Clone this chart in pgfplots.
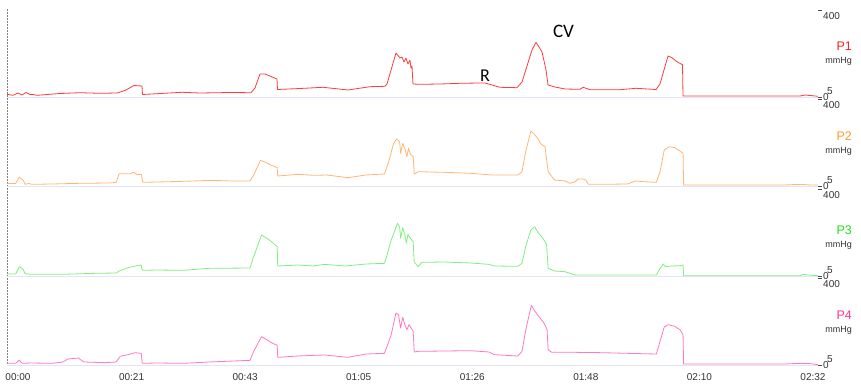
\documentclass[border=0pt]{standalone}
\usepackage{pgfplots}
\pgfplotsset{compat=1.18}
\usepackage{fontspec}
\setmainfont{Liberation Sans}
\newfontfamily\carlito{Carlito}
\definecolor{cP1}{HTML}{FF3B3B}
\definecolor{cP2}{HTML}{FFB574}
\definecolor{cP3}{HTML}{80EE80}
\definecolor{cP4}{HTML}{FF78C4}
\definecolor{lP1}{HTML}{FF2020}
\definecolor{lP2}{HTML}{FF9A30}
\definecolor{lP3}{HTML}{22DD22}
\definecolor{lP4}{HTML}{FF3399}
\definecolor{base}{HTML}{E4E4F8}
\pgfplotsset{
 panel/.style={
  scale only axis, width=811pt, height=87pt,
  xmin=-2.1, xmax=152.96, ymin=-5, ymax=400,
  axis line style={draw=none},
  xtick=\empty,
  ytick={-5,400},
  yticklabels={{\raisebox{-3.2pt}[0pt][0pt]{0}\hspace{-1.6pt}\raisebox{2.6pt}[0pt][0pt]{5}},{\raisebox{-9.8pt}[0pt][0pt]{400}}},
  ytick pos=right,
  yticklabel pos=right,
  tick align=outside,
  major tick length=4pt,
  ytick style={black!70, line width=0.6pt},
  yticklabel style={font=\fontsize{10}{10}\selectfont, text=black!80, anchor=west, inner sep=1pt},
  every axis plot/.append style={line width=0.8pt, line join=round},
  anchor=south west,
 },
}
\begin{document}
\begin{tikzpicture}
\useasboundingbox (0pt,0pt) rectangle (861pt,384pt);
\draw[gray, densely dotted, line width=0.5pt] (7pt,19pt) -- (7pt,376pt);

% P1
\begin{axis}[panel, at={(7pt,287pt)}]
\draw[base, line width=1pt] (axis cs:-2.1,-5) -- (axis cs:152.96,-5);
\addplot[cP1] coordinates {
(-2.10,7.6)(-0.96,2.9)(0,13.6)(0.76,4.3)(1.53,15.9)(2.29,6.6)(2.87,6.6)(3.63,2.9)
(8.03,11.3)(11.85,15.0)(15.68,12.2)(18.93,13.6)(20.46,25.3)(22.18,48.5)(23.71,46.2)(23.80,6.6)
(27.24,11.3)(31.36,16.9)(34.80,13.6)(40.53,15.9)(44.55,15.0)(45.31,36.9)(46.27,102.1)(47.22,102.1)
(49.52,78.8)(49.62,29.9)(53.92,34.6)(58.32,40.2)(63.10,27.6)(67.30,43.0)(70.17,44.8)(70.55,55.5)
(72.27,199.8)(73.04,176.5)(73.42,181.2)(73.80,157.9)(74.18,176.5)(74.57,148.6)(74.95,167.2)(75.14,130.0)
(75.33,139.3)(75.52,55.5)(76.86,54.1)(80.69,55.5)(84.51,58.8)(88.33,60.2)(89.29,60.2)(92.16,40.2)
(95.41,38.3)(96.37,64.8)(98.28,213.8)(99.04,249.6)(99.62,227.8)(100.19,204.5)(100.96,120.7)(101.34,50.9)
(102.67,41.6)(104.59,32.2)(107.45,30.8)(108.03,40.2)(109.37,29.0)(115.11,29.0)(118.16,35.5)(121.99,29.9)
(122.75,55.5)(124.28,185.9)(125.04,177.9)(125.81,162.6)(126.77,148.6)(127.05,146.3)(127.15,-0.3)(130.40,-0.3)
(149.52,-0.3)(150.47,4.3)(151.81,1.1)(152.96,-1.7)
};
\node[font=\carlito\fontsize{18}{18}\selectfont] at (axis cs:89.3,92.8) {R};
\node[font=\carlito\fontsize{19}{19}\selectfont] at (axis cs:104.3,299) {CV};
\end{axis}

% P2
\begin{axis}[panel, at={(7pt,198pt)}]
\draw[base, line width=1pt] (axis cs:-2.1,-5) -- (axis cs:152.96,-5);
\addplot[cP2] coordinates {
(-2.04,6.9)(-0.44,6.9)(0.26,35.4)(0.96,22.9)(1.36,2.8)(2.06,6.9)(2.56,2.8)(6.56,4.3)
(11.56,7.4)(17.56,9.0)(18.76,12.1)(19.36,52.4)(20.56,52.4)(21.56,52.4)(22.06,58.6)(22.76,47.8)
(23.56,49.3)(23.86,12.1)(26.56,13.6)(31.56,16.7)(37.06,21.4)(40.56,18.3)(44.36,18.3)(45.06,46.2)
(46.36,114.5)(47.06,108.3)(48.36,92.8)(49.56,80.4)(49.66,41.6)(53.56,49.3)(56.56,44.7)(59.06,46.2)
(63.06,33.8)(66.56,46.2)(70.06,50.9)(70.56,85.0)(71.06,123.8)(71.76,189.0)(72.36,213.8)(72.96,201.4)
(73.16,147.1)(73.56,193.7)(74.06,162.6)(74.36,131.6)(74.66,170.4)(75.06,142.4)(75.56,131.6)(75.76,50.9)
(76.56,61.7)(81.56,58.6)(86.56,54.0)(90.56,46.2)(95.56,46.2)(96.36,61.7)(97.06,154.9)(98.06,251.1)
(98.56,240.2)(99.36,216.9)(100.06,189.0)(100.76,178.1)(101.36,61.7)(102.56,22.9)(104.56,18.3)(105.56,7.4)
(106.56,15.2)(107.06,27.6)(108.06,27.6)(108.56,22.9)(109.06,2.8)(111.56,2.8)(116.56,4.3)(118.06,18.3)
(119.56,15.2)(122.06,12.1)(122.76,61.7)(123.56,162.6)(124.56,178.1)(125.56,173.5)(126.56,158.0)(127.16,147.1)
(127.26,-0.3)(136.56,-0.3)(146.56,-0.3)(149.56,2.8)(151.56,-0.3)(152.96,-0.3)
};
\end{axis}

% P3
\begin{axis}[panel, at={(7pt,108pt)}]
\draw[base, line width=1pt] (axis cs:-2.1,-5) -- (axis cs:152.96,-5);
\addplot[cP3] coordinates {
(-2.04,4.3)(-0.44,4.3)(0.26,38.5)(0.96,27.6)(1.36,5.9)(2.56,2.8)(8.56,2.8)(14.56,7.4)
(18.76,9.0)(19.36,18.3)(21.06,33.8)(22.76,43.1)(23.56,46.2)(23.76,21.4)(26.56,22.9)(31.56,21.4)
(36.56,30.7)(44.36,32.2)(45.06,85.0)(46.56,185.9)(48.06,162.6)(49.56,131.6)(49.66,41.6)(53.56,46.2)
(56.56,41.6)(58.56,49.3)(62.56,41.6)(66.56,50.9)(70.06,54.0)(70.56,92.8)(71.36,162.6)(72.56,240.2)
(72.96,224.7)(73.16,170.4)(73.56,220.0)(73.96,185.9)(74.26,147.1)(74.56,189.0)(75.16,165.7)(75.56,154.9)
(75.76,58.6)(76.56,38.5)(77.16,58.6)(81.56,60.2)(86.56,55.5)(90.06,49.3)(91.06,41.6)(95.56,40.0)
(96.36,54.0)(97.06,131.6)(98.06,209.2)(98.76,224.7)(99.56,193.7)(100.36,170.4)(101.06,142.4)(101.36,30.7)
(102.56,18.3)(104.56,15.2)(105.56,7.4)(106.56,-0.3)(111.56,-0.3)(116.56,-0.3)(122.06,-0.3)(122.76,30.7)
(123.36,50.9)(123.76,38.5)(125.06,41.6)(126.56,43.1)(127.16,46.2)(127.26,-3.4)(136.56,-3.4)(149.56,-3.4)
(150.06,2.8)(151.06,-0.3)(152.96,-3.4)
};
\end{axis}

% P4
\begin{axis}[panel, at={(7pt,19pt)},
  xtick={0,21.714,43.429,65.143,86.857,108.571,130.286,152},
  xticklabels={00:00,00:21,00:43,01:05,01:26,01:48,02:10,02:32},
  xtick style={draw=none},
  xticklabel style={font=\fontsize{10}{10}\selectfont, text=black!80, yshift=-1pt}]
\draw[base, line width=1pt] (axis cs:-2.1,-5) -- (axis cs:152.96,-5);
\addplot[cP4] coordinates {
(-2.04,2.8)(-0.44,2.8)(0.26,18.3)(0.76,2.8)(2.56,4.3)(6.56,2.8)(8.56,9.0)(9.56,22.9)
(11.56,27.6)(12.56,9.0)(16.56,5.9)(18.76,9.0)(19.56,35.4)(21.56,46.2)(22.36,52.4)(23.56,49.3)
(23.76,2.8)(26.56,4.3)(31.56,2.8)(36.56,9.0)(44.36,16.7)(45.06,58.6)(46.56,126.9)(47.56,113.0)
(48.56,97.4)(49.56,86.6)(49.66,30.7)(53.56,36.9)(56.56,40.0)(58.56,41.6)(63.06,30.7)(66.56,46.2)
(70.06,49.3)(70.56,81.9)(71.36,136.2)(72.26,237.1)(72.76,229.4)(73.16,167.3)(73.56,216.9)(73.96,182.8)
(74.36,159.5)(74.76,182.8)(75.26,164.2)(75.56,151.8)(75.76,55.5)(76.56,58.6)(81.56,60.2)(86.56,61.7)
(90.06,55.5)(91.06,43.1)(95.56,36.9)(96.36,58.6)(97.16,167.3)(98.16,272.8)(98.76,248.0)(99.56,221.6)
(100.56,190.6)(101.16,159.5)(101.36,66.4)(102.06,54.0)(106.56,54.0)(111.56,52.4)(116.56,49.3)(122.06,46.2)
(122.76,105.2)(123.56,171.9)(124.36,182.8)(125.56,175.0)(126.56,159.5)(127.16,136.2)(127.26,-0.3)(136.56,-0.3)
(146.56,-0.3)(149.56,2.8)(151.56,1.2)(152.96,-3.4)
};
\end{axis}

% channel labels
\node[anchor=east, text=lP1, font=\fontsize{12.5}{12.5}\selectfont, inner sep=0pt] at (852pt,338pt) {P1};
\node[anchor=east, text=black!80, font=\fontsize{9}{9}\selectfont, inner sep=0pt] at (852pt,323pt) {mmHg};
\node[anchor=east, text=lP2, font=\fontsize{12.5}{12.5}\selectfont, inner sep=0pt] at (852pt,248pt) {P2};
\node[anchor=east, text=black!80, font=\fontsize{9}{9}\selectfont, inner sep=0pt] at (852pt,233pt) {mmHg};
\node[anchor=east, text=lP3, font=\fontsize{12.5}{12.5}\selectfont, inner sep=0pt] at (852pt,154pt) {P3};
\node[anchor=east, text=black!80, font=\fontsize{9}{9}\selectfont, inner sep=0pt] at (852pt,139pt) {mmHg};
\node[anchor=east, text=lP4, font=\fontsize{12.5}{12.5}\selectfont, inner sep=0pt] at (852pt,69pt) {P4};
\node[anchor=east, text=black!80, font=\fontsize{9}{9}\selectfont, inner sep=0pt] at (852pt,54pt) {mmHg};
\end{tikzpicture}
\end{document}
